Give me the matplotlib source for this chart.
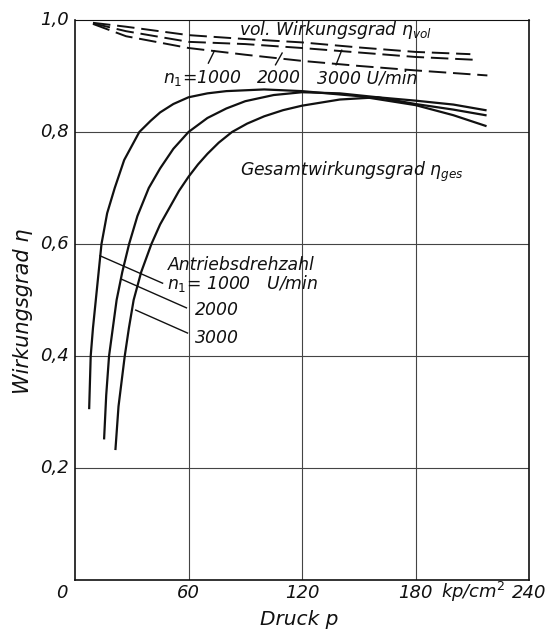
import matplotlib
matplotlib.use("Agg")
import matplotlib.pyplot as plt
from matplotlib import font_manager

# ---------------- data ----------------
# Gesamtwirkungsgrad (solid) for n1 = 1000, 2000, 3000 U/min
p_ges_1000 = [7.5, 8.3, 9.5, 11, 12.5, 14, 17, 21, 26, 34, 40, 45, 52, 60, 70, 80, 100, 120, 150, 180, 200, 217]
v_ges_1000 = [0.307, 0.40, 0.45, 0.50, 0.55, 0.60, 0.655, 0.70, 0.75, 0.80, 0.82, 0.835, 0.85, 0.862, 0.869, 0.873, 0.876, 0.873, 0.864, 0.848, 0.830, 0.811]

p_ges_2000 = [15.4, 16.5, 18, 20, 22, 25, 28.6, 33, 39, 45, 52, 60, 70, 80, 90, 105, 120, 140, 160, 180, 200, 217]
v_ges_2000 = [0.253, 0.33, 0.40, 0.45, 0.50, 0.55, 0.60, 0.65, 0.70, 0.735, 0.77, 0.80, 0.825, 0.842, 0.855, 0.866, 0.871, 0.869, 0.862, 0.850, 0.840, 0.830]

p_ges_3000 = [21.4, 23, 26.3, 28.5, 31, 35, 40.4, 45, 50, 55, 60, 65, 70, 76, 83, 91, 100, 110, 120, 140, 160, 180, 200, 217]
v_ges_3000 = [0.234, 0.31, 0.40, 0.45, 0.50, 0.55, 0.60, 0.635, 0.665, 0.695, 0.72, 0.742, 0.761, 0.781, 0.80, 0.815, 0.828, 0.839, 0.847, 0.858, 0.862, 0.856, 0.849, 0.839]

# volumetrischer Wirkungsgrad (dashed)
p_vol_3000 = [9.5, 27, 60, 90, 120, 150, 180, 209]
v_vol_3000 = [0.995, 0.988, 0.973, 0.966, 0.960, 0.951, 0.943, 0.939]
p_vol_2000 = [9.5, 27, 60, 90, 120, 150, 180, 211]
v_vol_2000 = [0.994, 0.980, 0.961, 0.957, 0.950, 0.942, 0.934, 0.929]
p_vol_1000 = [9.5, 27, 60, 90, 120, 150, 180, 218]
v_vol_1000 = [0.993, 0.971, 0.950, 0.938, 0.927, 0.918, 0.910, 0.901]

x_ticks = [0, 60, 120, 180, 240]
x_tick_labels = ["0", "60", "120", "180", "240"]
y_ticks = [0, 0.2, 0.4, 0.6, 0.8, 1.0]
y_tick_labels = ["0", "0,2", "0,4", "0,6", "0,8", "1,0"]

# ---------------- style ----------------
available = {f.name for f in font_manager.fontManager.ttflist}
FAM = 'DejaVu Sans'
for cand in ['Liberation Sans Narrow', 'DejaVu Sans Condensed', 'DejaVu Sans']:
    if cand in available:
        FAM = cand
        break
plt.rcParams['font.family'] = [FAM, 'DejaVu Sans']
plt.rcParams['mathtext.fontset'] = 'custom'
plt.rcParams['mathtext.rm'] = FAM
plt.rcParams['mathtext.it'] = FAM + ':italic'
plt.rcParams['mathtext.default'] = 'it'
FS = 13
TXT = dict(style='italic', fontsize=FS, color='#111111')
TXT2 = dict(style='italic', fontsize=12.4, color='#111111')

fig = plt.figure(figsize=(5.58, 6.30), dpi=100)
ax = fig.add_axes([75/558, 50/630, 454/558, 560/630])
ax.set_xlim(0, 240)
ax.set_ylim(0, 1.0)

ax.set_xticks([60, 120, 180])
ax.set_yticks([0.2, 0.4, 0.6, 0.8])
ax.tick_params(length=0, labelbottom=False, labelleft=False)
ax.grid(True, color='#444444', lw=0.8)
for s in ax.spines.values():
    s.set_color('#111111')
    s.set_linewidth(1.2)
ax.spines['top'].set_linewidth(0.8)

lw = 1.6
ink = '#111111'
ax.plot(p_ges_1000, v_ges_1000, color=ink, lw=lw)
ax.plot(p_ges_2000, v_ges_2000, color=ink, lw=lw)
ax.plot(p_ges_3000, v_ges_3000, color=ink, lw=lw)
for pv, vv in [(p_vol_1000, v_vol_1000), (p_vol_2000, v_vol_2000), (p_vol_3000, v_vol_3000)]:
    ax.plot(pv, vv, color=ink, lw=1.4, dashes=(9, 3.5))

# tick labels
xt = ax.get_xaxis_transform()
for p, lab in zip(x_ticks, x_tick_labels):
    xp = -7 if p == 0 else p
    ax.text(xp, -0.023, lab, transform=xt, ha='center', va='center', **TXT)
ax.text(210.5, -0.021, "kp/cm$^{2}$", transform=xt, ha='center', va='center', **TXT)
for v, lab in zip(y_ticks, y_tick_labels):
    if v == 0:
        continue
    ax.text(-0.013, v, lab, transform=ax.get_yaxis_transform(), ha='right', va='center', **TXT)

ax.text(118.4, -0.071, "Druck p", transform=xt, ha='center', va='center',
        style='italic', fontsize=14.5, color='#111111')
ax.text(-0.115, 0.48, "Wirkungsgrad η", transform=ax.transAxes, rotation=90, ha='center', va='center',
        style='italic', fontsize=15, color='#111111')

# annotations
ax.text(86.8, 0.982, r"vol. Wirkungsgrad $η_{vol}$", ha='left', va='center', **TXT2)
ax.text(46.3, 0.896, r"$n_1$=1000", ha='left', va='center', **TXT2)
ax.text(96.3, 0.896, "2000", ha='left', va='center', **TXT2)
ax.text(127.9, 0.896, "3000 U/min", ha='left', va='center', **TXT2)
ax.text(87, 0.729, r"Gesamtwirkungsgrad $η_{ges}$", ha='left', va='center', **TXT2)
ax.text(49, 0.562, "Antriebsdrehzahl", ha='left', va='center', **TXT2)
ax.text(48.5, 0.530, r"$n_1$= 1000   U/min", ha='left', va='center', **TXT2)
ax.text(63.5, 0.482, "2000", ha='left', va='center', **TXT2)
ax.text(63.5, 0.432, "3000", ha='left', va='center', **TXT2)

# leader lines
lk = dict(color=ink, lw=1.0)
ax.plot([70.5, 73.7], [0.923, 0.945], **lk)
ax.plot([106, 109.5], [0.920, 0.941], **lk)
ax.plot([138, 141], [0.920, 0.946], **lk)
ax.plot([13.2, 46.3], [0.579, 0.53], **lk)
ax.plot([24.7, 58.9], [0.537, 0.486], **lk)
ax.plot([32.1, 59.5], [0.482, 0.441], **lk)

fig.savefig("out.png", dpi=100)
